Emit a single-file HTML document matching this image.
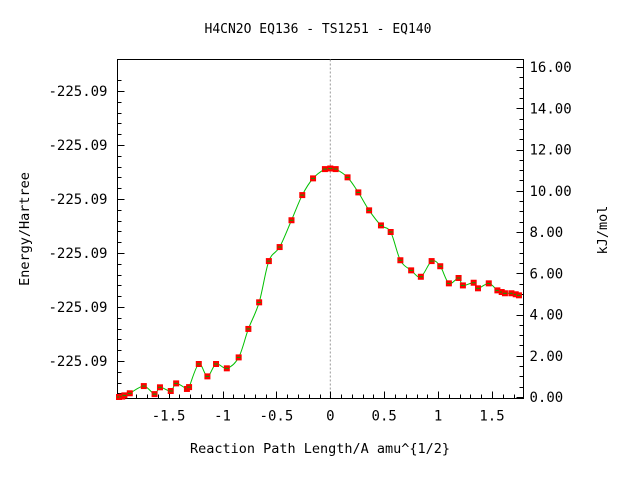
<!DOCTYPE html>
<html><head><meta charset="utf-8"><style>
body{margin:0;background:#fff;}
svg text{font-family:"DejaVu Sans Mono","Liberation Mono",monospace;font-size:14px;fill:#000;}
</style></head><body>
<svg id="chart" width="640" height="480" xmlns="http://www.w3.org/2000/svg">
<rect width="640" height="480" fill="#fff"/>
<text x="318" y="33" text-anchor="middle" style="font-size:13px">H4CN2O   EQ136 - TS1251 - EQ140</text>
<g id="axes"></g>
<g id="series"></g>
<text x="320" y="453" text-anchor="middle" style="font-size:13.5px">Reaction Path Length/A amu^{1/2}</text>
<text transform="translate(29,229) rotate(-90)" text-anchor="middle" style="font-size:13.5px">Energy/Hartree</text>
<text transform="translate(607,230) rotate(-90)" text-anchor="middle" style="font-size:13.5px">kJ/mol</text>
</svg>
<script>
const xs=[-1.96,-1.93,-1.91,-1.86,-1.73,-1.63,-1.58,-1.48,-1.43,-1.33,-1.31,-1.22,-1.14,-1.06,-0.96,-0.85,-0.76,-0.66,-0.57,-0.47,-0.36,-0.26,-0.16,-0.05,0.0,0.05,0.16,0.26,0.36,0.47,0.56,0.65,0.75,0.84,0.94,1.02,1.10,1.19,1.23,1.33,1.37,1.47,1.55,1.59,1.62,1.68,1.72,1.75];
const energies=[0.0,0.02,0.08,0.18,0.53,0.14,0.47,0.29,0.66,0.39,0.48,1.6,1.0,1.6,1.39,1.92,3.30,4.59,6.59,7.27,8.57,9.79,10.6,11.05,11.08,11.05,10.65,9.92,9.05,8.32,8.0,6.63,6.14,5.83,6.59,6.34,5.51,5.77,5.41,5.54,5.27,5.51,5.17,5.09,5.03,5.03,4.98,4.93];
const xTickLabels=["-1.5","-1","-0.5","0","0.5","1","1.5"];
const xTickVals=[-1.5,-1,-0.5,0,0.5,1,1.5];
const rightTickVals=[0,2,4,6,8,10,12,14,16];
const leftTickLabels=["-225.09","-225.09","-225.09","-225.09","-225.09","-225.09"];
const L=117.5,R=523.5,T=59.5,B=398.5;
const X=v=>330.3+v*107.8;
const Y=e=>397-e*20.625;
const NS="http://www.w3.org/2000/svg";
function mk(tag,attrs,parent){const e=document.createElementNS(NS,tag);for(const k in attrs)e.setAttribute(k,attrs[k]);parent.appendChild(e);return e;}
const ax=document.getElementById('axes');
const frame=mk('rect',{x:L,y:T,width:R-L,height:B-T,fill:'none',stroke:'#000','stroke-width':1},ax);


const zl=mk('line',{x1:X(0),x2:X(0),y1:T,y2:B,stroke:'#999','stroke-dasharray':'2,2'},ax);


// x minor ticks
for(let i=-19;i<=17;i++){const v=i/10,px=Math.round(X(v))+0.5;if(px<L||px>R)continue;const major=(i%5===0);
mk('line',{x1:px,x2:px,y1:B,y2:B-(major?7:4),stroke:'#000'},ax);}
xTickVals.forEach((v,i)=>{const t=mk('text',{x:X(v),y:B+22,'text-anchor':'middle'},ax);t.textContent=xTickLabels[i];

});
// left ticks
for(let k=0;k<=30;k++){const py=Math.round(91+(k-6)*10.8)+0.5;if(py<T||py>B)continue;}
for(let k=-1;k<6*5+2;k++){const py=Math.round(91+k*10.8)+0.5;if(py<T||py>B)continue;const major=(k%5===0&&k>=0);
mk('line',{x1:L,x2:L+(major?7:4),y1:py,y2:py,stroke:'#000'},ax);}
leftTickLabels.forEach((s,i)=>{const t=mk('text',{x:L-10,y:91+i*54+5,'text-anchor':'end'},ax);t.textContent=s;

});
// right ticks
for(let e=0;e<=16.5;e+=0.5){const py=Math.round(Y(e))+0.5;if(py<T)continue;const major=(Math.abs(e%2)<1e-6);
mk('line',{x1:R,x2:R-(major?7:4),y1:py,y2:py,stroke:'#000'},ax);}
rightTickVals.forEach(v=>{const t=mk('text',{x:R+6,y:Y(v)+5},ax);t.textContent=v.toFixed(2);

});
// curve (Catmull-Rom)
const sg=document.getElementById('series');
const P=xs.map((v,i)=>[X(v),Y(energies[i])]);
let d='M'+P[0][0]+','+P[0][1];
for(let i=0;i<P.length-1;i++){const p0=P[Math.max(0,i-1)],p1=P[i],p2=P[i+1],p3=P[Math.min(P.length-1,i+2)];
d+=' C'+(p1[0]+(p2[0]-p0[0])/6)+','+(p1[1]+(p2[1]-p0[1])/6)+' '+(p2[0]-(p3[0]-p1[0])/6)+','+(p2[1]-(p3[1]-p1[1])/6)+' '+p2[0]+','+p2[1];}
const line=mk('path',{d:d,fill:'none',stroke:'#00c000','stroke-width':1},sg);


P.forEach(p=>{const r=mk('rect',{x:p[0]-3,y:p[1]-3,width:6,height:6,fill:'#f00'},sg);


mk('line',{x1:p[0]-2,x2:p[0]+2,y1:p[1],y2:p[1],stroke:'#0a0','stroke-width':1},sg);});
</script>
</body></html>
